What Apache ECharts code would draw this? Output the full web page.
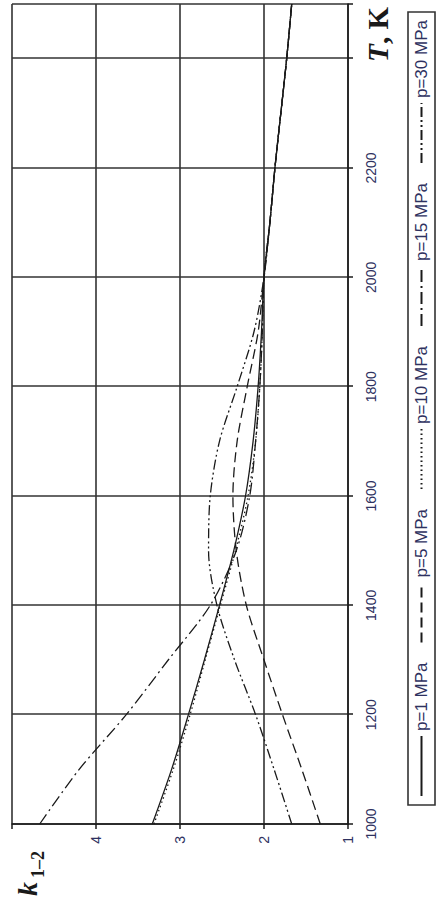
<!DOCTYPE html>
<html>
<head>
<meta charset="utf-8">
<script src="https://cdn.jsdelivr.net/npm/echarts@6/dist/echarts.min.js"></script>
<style>
  html, body { margin: 0; padding: 0; background: #fff; width: 440px; height: 900px; overflow: hidden; }
  /* The chart is laid out landscape (900x440) and turned a quarter turn
     counter-clockwise so the temperature axis runs bottom-to-top. */
  #chart {
    position: absolute; left: 0; top: 0;
    width: 900px; height: 440px;
    transform-origin: 0 0;
    transform: translate(0, 900px) rotate(-90deg);
  }
</style>
</head>
<body>
<div id="chart"></div>
<script>
// Temperature grid, K
const temperatures = [1000, 1100, 1200, 1300, 1400, 1500, 1600, 1700, 1800, 1900, 2000, 2100, 2200, 2300, 2400, 2500];

// k(1-2) at each temperature, one list per pressure
const k_p1  = [3.33, 3.10, 2.90, 2.71, 2.53, 2.36, 2.22, 2.13, 2.07, 2.03, 2.00, 1.93, 1.87, 1.80, 1.73, 1.67];
const k_p5  = [1.33, 1.55, 1.78, 2.00, 2.21, 2.33, 2.37, 2.32, 2.20, 2.07, 2.00, 1.93, 1.87, 1.80, 1.73, 1.67];
const k_p10 = [3.31, 3.08, 2.88, 2.70, 2.52, 2.34, 2.19, 2.10, 2.05, 2.02, 2.00, 1.93, 1.87, 1.80, 1.73, 1.67];
const k_p15 = [4.67, 4.20, 3.64, 3.14, 2.64, 2.33, 2.17, 2.10, 2.05, 2.02, 2.00, 1.93, 1.87, 1.80, 1.73, 1.67];
const k_p30 = [1.67, 1.88, 2.10, 2.35, 2.56, 2.66, 2.64, 2.53, 2.32, 2.12, 2.00, 1.93, 1.87, 1.80, 1.73, 1.67];

const seriesNames = ['p=1 MPa', 'p=5 MPa', 'p=10 MPa', 'p=15 MPa', 'p=30 MPa'];
const seriesValues = [k_p1, k_p5, k_p10, k_p15, k_p30];
const dashPatterns = ['solid', [10, 5], [1.5, 3], [12, 4, 2, 4], [10, 3, 2, 3, 2, 3]];

const ink = '#1a1a1a';
const labelColor = '#2e3160';
const gridColor = '#333';

const chart = echarts.init(document.getElementById('chart'), null, { renderer: 'svg' });

const series = seriesNames.map((name, i) => ({
  name: name,
  type: 'line',
  smooth: 0.3,
  symbol: 'none',
  showSymbol: false,
  animation: false,
  data: temperatures.map((t, j) => [t, seriesValues[i][j]]),
  lineStyle: { color: ink, width: 1.3, type: dashPatterns[i] },
  itemStyle: { color: ink },
  z: 3
}));

chart.setOption({
  backgroundColor: '#fff',
  animation: false,
  grid: { left: 76, right: 4, top: 12, bottom: 92, containLabel: false },
  xAxis: {
    type: 'value',
    min: 1000, max: 2500, interval: 200,
    axisLine: { show: true, onZero: false, lineStyle: { color: ink, width: 1.5 } },
    axisTick: { show: true, length: 5, lineStyle: { color: ink, width: 1.5 } },
    splitLine: { show: true, lineStyle: { color: gridColor, width: 1.6 } },
    axisLabel: {
      margin: 16,
      color: labelColor,
      fontSize: 14,
      fontFamily: '"Liberation Sans", Arial, sans-serif',
      formatter: v => (v >= 2400 ? '' : String(v))
    }
  },
  yAxis: {
    type: 'value',
    min: 1, max: 5, interval: 1,
    axisLine: { show: true, onZero: false, lineStyle: { color: ink, width: 1.5 } },
    axisTick: { show: true, length: 5, lineStyle: { color: ink, width: 1.5 } },
    splitLine: { show: true, lineStyle: { color: gridColor, width: 1.6 } },
    axisLabel: {
      margin: 12,
      color: labelColor,
      fontSize: 14,
      fontFamily: '"Liberation Sans", Arial, sans-serif',
      formatter: v => (v >= 5 ? '' : String(v))
    }
  },
  legend: {
    data: seriesNames,
    orient: 'horizontal',
    left: 95, top: 408,
    itemWidth: 60, itemHeight: 12, itemGap: 19,
    padding: [5, 8],
    borderColor: '#333', borderWidth: 1.6,
    selectedMode: false,
    itemStyle: { opacity: 0, color: 'rgba(0,0,0,0)', borderWidth: 0 },
    textStyle: { fontSize: 17, color: labelColor, fontFamily: '"Liberation Sans", Arial, sans-serif' }
  },
  graphic: [
    { type: 'text', style: { text: 'k', x: 4, y: 27, verticalAlign: 'middle', font: 'italic bold 28px "Liberation Serif", serif', fill: ink } },
    { type: 'text', style: { text: '1\u20132', x: 22, y: 38, verticalAlign: 'middle', font: 'bold 18px "Liberation Serif", serif', fill: ink } },
    { type: 'text', style: { text: 'T', x: 838, y: 378, verticalAlign: 'middle', font: 'italic bold 29px "Liberation Serif", serif', fill: ink } },
    { type: 'text', style: { text: ', K', x: 856, y: 378, verticalAlign: 'middle', font: 'bold 29px "Liberation Serif", serif', fill: ink } }
  ],
  series: series
});
</script>
</body>
</html>
